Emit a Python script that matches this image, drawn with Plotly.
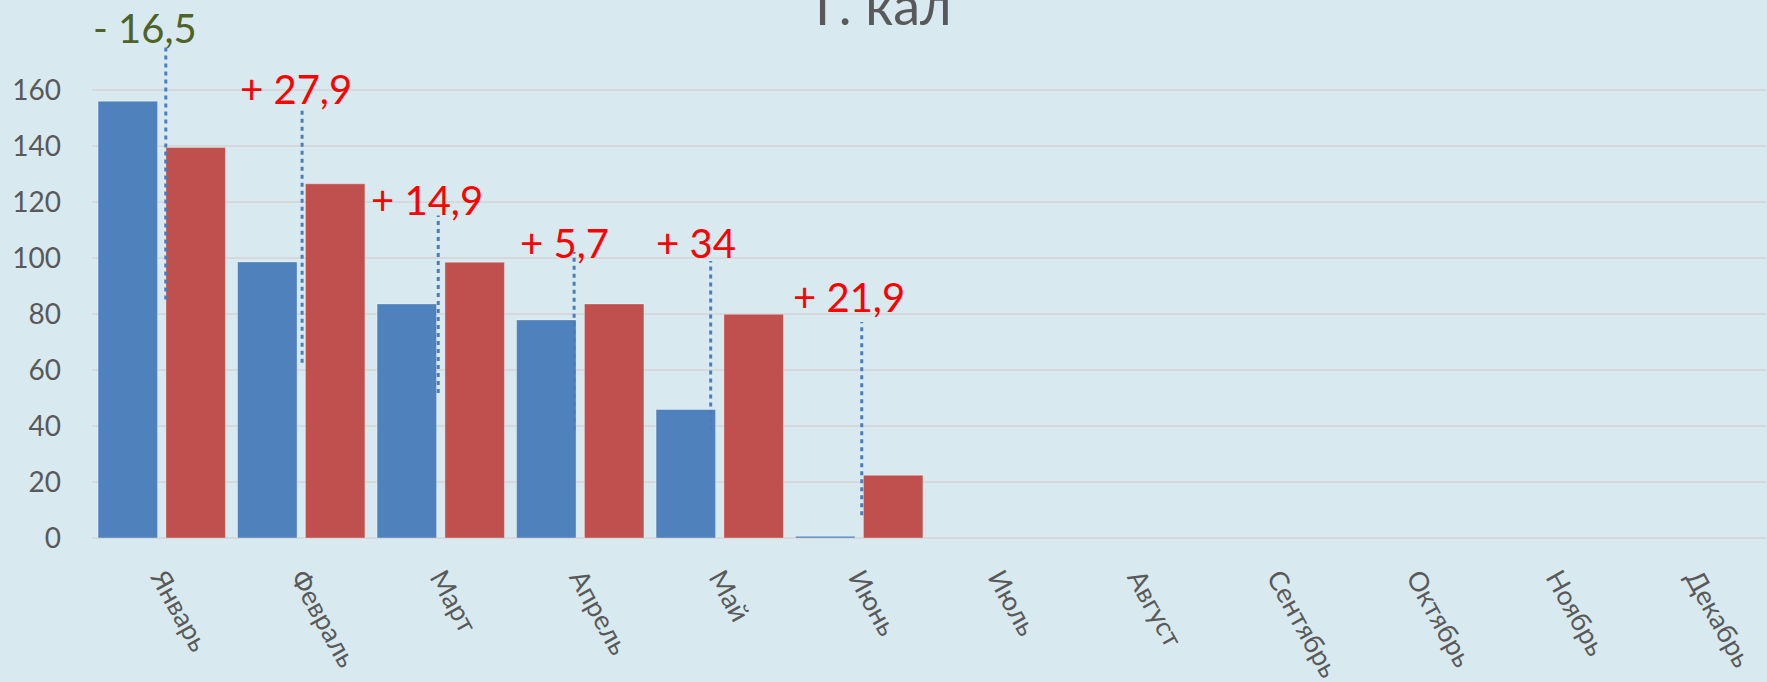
import plotly.graph_objects as go

months = ["Январь", "Февраль", "Март", "Апрель", "Май", "Июнь",
          "Июль", "Август", "Сентябрь", "Октябрь", "Ноябрь", "Декабрь"]
prev_year = [156.0, 98.6, 83.6, 77.9, 45.9, 0.6, None, None, None, None, None, None]
curr_year = [139.5, 126.5, 98.5, 83.6, 79.9, 22.4, None, None, None, None, None, None]

diff_labels = ["- 16,5", "+ 27,9", "+ 14,9", "+ 5,7", "+ 34", "+ 21,9"]
diff_colors = ["#4f6228", "#ff0000", "#ff0000", "#ff0000", "#ff0000", "#ff0000"]
label_level = [182.2, 160.4, 120.6, 105.4, 105.2, 86.0]
label_shift = [-0.12, -0.036, -0.098, -0.11, -0.17, -0.07]
connector_top = [175.3, 152.9, 115.2, 102.1, 98.9, 77.1]
connector_bottom = [85.2, 62.6, 51.8, 38.7, 38.4, 8.1]
connector_shift = [0.029, 0.006, -0.018, -0.044, -0.065, 0.018]

y_ticks = [0, 20, 40, 60, 80, 100, 120, 140, 160]
title_text = "Г. кал"

x = list(range(len(months)))
bg = "#d8eaf0"
tick_color = "#595959"

fig = go.Figure()
fig.add_trace(go.Bar(x=x, y=prev_year, marker=dict(color="#4f81bd",
                     line=dict(color="rgba(255,255,255,0.35)", width=1))))
fig.add_trace(go.Bar(x=x, y=curr_year, marker=dict(color="#c0504d",
                     line=dict(color="rgba(255,255,255,0.35)", width=1))))

for i in range(len(diff_labels)):
    fig.add_shape(type="line", xref="x", yref="y",
                  x0=i + connector_shift[i], x1=i + connector_shift[i],
                  y0=connector_bottom[i], y1=connector_top[i],
                  line=dict(color="#4a7ebb", width=3, dash="4px,4px"), layer="above")
    fig.add_annotation(x=i + label_shift[i], y=label_level[i], xref="x", yref="y",
                       text=diff_labels[i], showarrow=False,
                       font=dict(family="Lato", size=40, color=diff_colors[i]),
                       xanchor="center", yanchor="middle")

fig.add_annotation(x=0.473, y=0.927, xref="paper", yref="paper", text=title_text,
                   showarrow=False, font=dict(family="Lato", size=54, color=tick_color),
                   xanchor="center", yanchor="bottom")

fig.update_layout(
    width=1767, height=682,
    margin=dict(l=92, r=1, t=0, b=144, pad=0),
    paper_bgcolor=bg, plot_bgcolor=bg,
    showlegend=False,
    barmode="group", bargap=0.027, bargroupgap=0.123,
    font=dict(family="Lato", color=tick_color),
)
fig.update_xaxes(range=[-0.5, 11.5], tickvals=x, ticktext=months, tickangle=61,
                 showgrid=False, zeroline=False, showline=False, ticks="",
                 tickfont=dict(family="Lato", size=27, color=tick_color),
                 ticklabelstandoff=18)
fig.update_yaxes(range=[0, 538 / 2.8], tickvals=y_ticks, showgrid=True,
                 gridcolor="#d6d9dc", gridwidth=2, zeroline=True, zerolinecolor="#d6d9dc",
                 zerolinewidth=2, showline=False, ticks="",
                 tickfont=dict(family="Lato", size=28, color=tick_color),
                 ticklabelstandoff=30)

fig.write_html("out.html", config={"displayModeBar": False},
               post_script="document.body.style.margin='0';document.body.style.overflow='hidden';")
